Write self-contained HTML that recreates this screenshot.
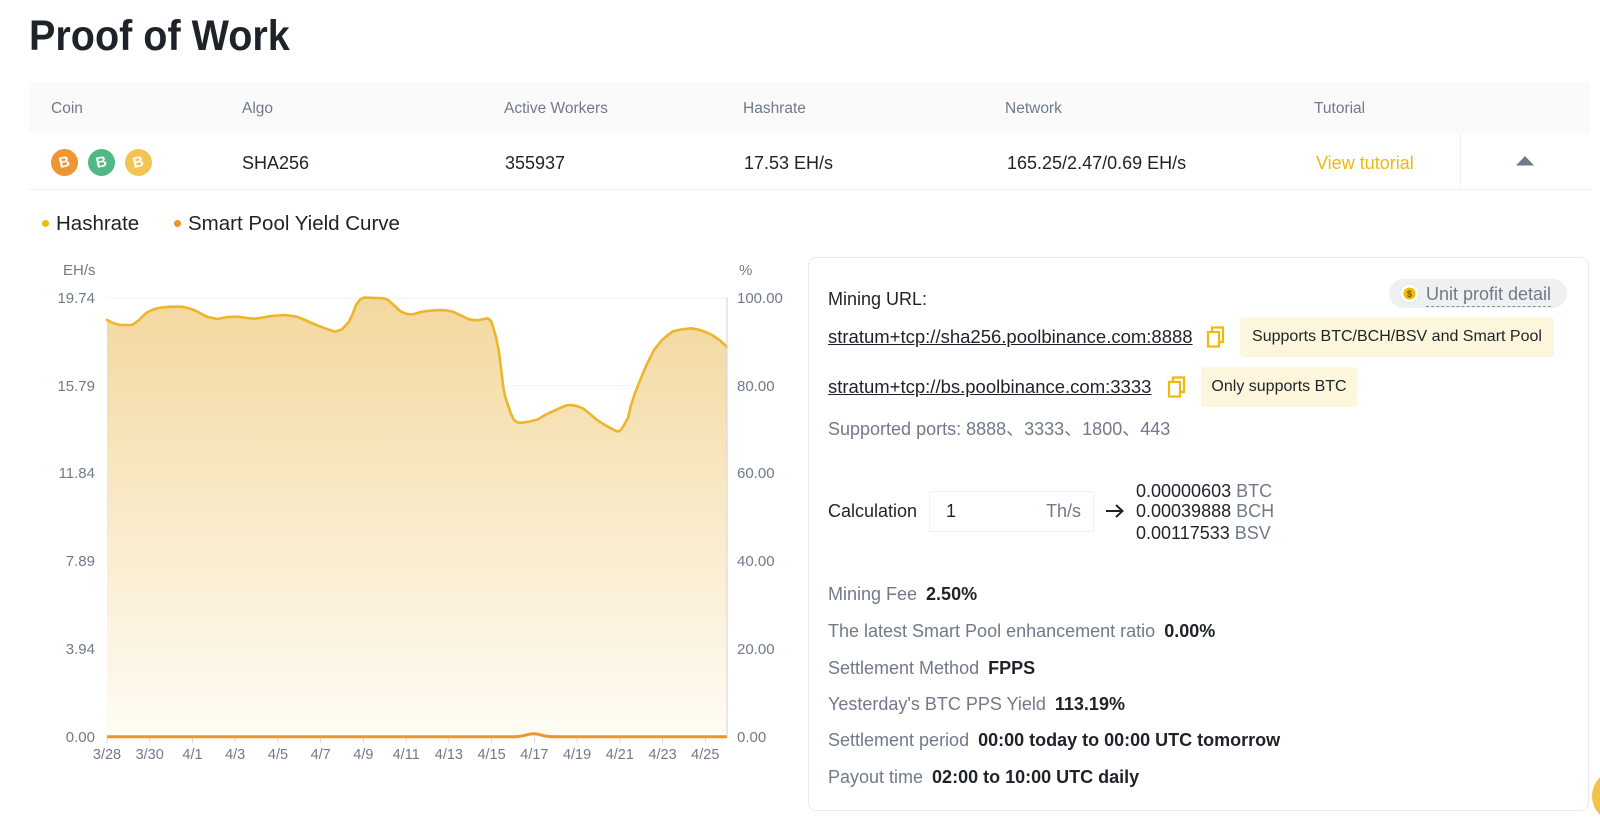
<!DOCTYPE html>
<html>
<head>
<meta charset="utf-8">
<style>
  html,body{margin:0;padding:0;}
  body{width:1600px;height:834px;overflow:hidden;background:#fff;position:relative;font-family:"Liberation Sans","Noto Sans CJK SC",sans-serif;color:#1e2329;}
  .a{position:absolute;white-space:nowrap;line-height:1;}
  .hd{font-size:15.5px;color:#707a8a;top:101px;}
  .rw{font-size:18px;color:#1e2329;top:154px;}
  .coin{position:absolute;width:27px;height:27px;border-radius:50%;top:149px;color:#fff;font-weight:bold;font-size:15px;line-height:27px;text-align:center;}
  .coin span{display:inline-block;transform:rotate(-12deg);}
  .yl{font-size:15px;color:#707a8a;text-align:right;width:60px;left:35px;}
  .yr{font-size:15px;color:#707a8a;left:737px;}
  .xl{font-size:14.5px;color:#707a8a;top:748px;width:50px;text-align:center;}
  .p18{font-size:18px;}
  .g{color:#707a8a;}
  .b{font-weight:bold;color:#1e2329;margin-left:9px;}
  .tag{position:absolute;background:#fdf5dc;border-radius:4px;font-size:16px;color:#1e2329;text-align:center;}
</style>
</head>
<body>

<!-- Title -->
<div class="a" style="left:28.6px;top:14.5px;font-size:43px;font-weight:bold;color:#1e2329;transform:scaleX(0.92);transform-origin:left top;">Proof of Work</div>

<!-- table header -->
<div style="position:absolute;left:28.6px;top:82px;width:1561px;height:51px;background:#fafafa;"></div>
<div class="a hd" style="left:51px;">Coin</div>
<div class="a hd" style="left:242px;">Algo</div>
<div class="a hd" style="left:504px;">Active Workers</div>
<div class="a hd" style="left:743px;">Hashrate</div>
<div class="a hd" style="left:1005px;">Network</div>
<div class="a hd" style="left:1314px;">Tutorial</div>

<!-- row -->
<div style="position:absolute;left:28.6px;top:189px;width:1561px;height:1px;background:#eef0f2;"></div>
<div style="position:absolute;left:1460px;top:133px;width:1px;height:57px;background:#eef0f2;"></div>
<div class="coin" style="left:51px;background:#ee9534;"><span>B</span></div>
<div class="coin" style="left:88px;background:#50b884;"><span>B</span></div>
<div class="coin" style="left:124.5px;background:#f3c452;"><span>B</span></div>
<div class="a rw" style="left:242px;">SHA256</div>
<div class="a rw" style="left:505px;">355937</div>
<div class="a rw" style="left:744px;">17.53 EH/s</div>
<div class="a rw" style="left:1007px;">165.25/2.47/0.69 EH/s</div>
<div class="a rw" style="left:1316px;color:#f0b90b;">View tutorial</div>
<svg style="position:absolute;left:1516px;top:156px;" width="18" height="10"><polygon points="0,9.5 9,0 18,9.5" fill="#707a8a"/></svg>

<!-- legend -->
<div style="position:absolute;left:41.5px;top:219.5px;width:7px;height:7px;border-radius:50%;background:#f0b90b;"></div>
<div class="a" style="left:56px;top:214px;font-size:20.5px;">Hashrate</div>
<div style="position:absolute;left:173.5px;top:219.5px;width:7px;height:7px;border-radius:50%;background:#f0902e;"></div>
<div class="a" style="left:188px;top:214px;font-size:20.5px;">Smart Pool Yield Curve</div>

<!-- chart -->
<svg style="position:absolute;left:0;top:0;" width="800" height="834">
  <defs>
    <linearGradient id="fg" x1="0" y1="298" x2="0" y2="737" gradientUnits="userSpaceOnUse">
      <stop offset="0" stop-color="#f3d89e"/>
      <stop offset="1" stop-color="#fffcf4"/>
    </linearGradient>
  </defs>
  <g stroke="#f1f2f4" stroke-width="1">
    <line x1="107" y1="298" x2="727" y2="298"/>
    <line x1="107" y1="385.7" x2="727" y2="385.7"/>
    <line x1="107" y1="473.5" x2="727" y2="473.5"/>
    <line x1="107" y1="561.2" x2="727" y2="561.2"/>
    <line x1="107" y1="649" x2="727" y2="649"/>
  </g>
  <path fill="url(#fg)" stroke="none" d="M107,736.7 L107,320 L113,323 L120,325 L132,325 L139,320 L146,313 L152,310 L158,308 L170,306.7 L182,306.7 L190,308.5 L196,311 L207,316.7 L217,319 L228,317 L238,316.7 L247,318 L255,318.7 L263,317.5 L271,316 L285,315 L297,316.7 L305,320 L314,324 L325,328.3 L335,331.7 L342,329.3 L349,321.7 L353,313 L356,305 L360,299.5 L364,297.5 L384,298.3 L388,300 L392,303.5 L397,308 L401,311.7 L407,314 L413,314.3 L422,311.7 L432,310.5 L441,310 L447,310.5 L453,311.7 L461,315.5 L469,319.3 L475,320.2 L479,320 L484,319 L488,318.3 L491,321 L493,326.7 L496,337 L499,352 L501,368 L503,385 L505,396 L508,405 L511,414 L514,420 L518,422.5 L522,422.7 L530,421.5 L538,419.3 L545,415 L552,411.7 L560,408 L566,405.5 L571,405 L577,406 L583,408.5 L590,414 L597,420 L604,424.5 L611,428.3 L615,430.5 L618,431.5 L621,430 L624,425 L628,418 L631,405 L635,393 L639,383 L646,366 L654,350 L662,340 L672,331.7 L681,329.5 L691,328.3 L698,329.5 L705,331.7 L712,335 L720,340.5 L727,347 L727,736.7 Z"/>
  <polyline fill="none" stroke="#eeb52c" stroke-width="2.6" stroke-linejoin="round" stroke-linecap="round" points="107,320 113,323 120,325 132,325 139,320 146,313 152,310 158,308 170,306.7 182,306.7 190,308.5 196,311 207,316.7 217,319 228,317 238,316.7 247,318 255,318.7 263,317.5 271,316 285,315 297,316.7 305,320 314,324 325,328.3 335,331.7 342,329.3 349,321.7 353,313 356,305 360,299.5 364,297.5 384,298.3 388,300 392,303.5 397,308 401,311.7 407,314 413,314.3 422,311.7 432,310.5 441,310 447,310.5 453,311.7 461,315.5 469,319.3 475,320.2 479,320 484,319 488,318.3 491,321 493,326.7 496,337 499,352 501,368 503,385 505,396 508,405 511,414 514,420 518,422.5 522,422.7 530,421.5 538,419.3 545,415 552,411.7 560,408 566,405.5 571,405 577,406 583,408.5 590,414 597,420 604,424.5 611,428.3 615,430.5 618,431.5 621,430 624,425 628,418 631,405 635,393 639,383 646,366 654,350 662,340 672,331.7 681,329.5 691,328.3 698,329.5 705,331.7 712,335 720,340.5 727,347"/>
  <!-- right axis -->
  <line x1="727" y1="298" x2="727" y2="737" stroke="#d5d8dc" stroke-width="1.2"/>
  <!-- x ticks -->
  <g stroke="#d5d8dc" stroke-width="1">
    <line x1="107" y1="737" x2="107" y2="743"/>
    <line x1="149.7" y1="737" x2="149.7" y2="743"/>
    <line x1="192.5" y1="737" x2="192.5" y2="743"/>
    <line x1="235.2" y1="737" x2="235.2" y2="743"/>
    <line x1="278" y1="737" x2="278" y2="743"/>
    <line x1="320.7" y1="737" x2="320.7" y2="743"/>
    <line x1="363.4" y1="737" x2="363.4" y2="743"/>
    <line x1="406.2" y1="737" x2="406.2" y2="743"/>
    <line x1="448.9" y1="737" x2="448.9" y2="743"/>
    <line x1="491.6" y1="737" x2="491.6" y2="743"/>
    <line x1="534.4" y1="737" x2="534.4" y2="743"/>
    <line x1="577.1" y1="737" x2="577.1" y2="743"/>
    <line x1="619.8" y1="737" x2="619.8" y2="743"/>
    <line x1="662.6" y1="737" x2="662.6" y2="743"/>
    <line x1="705.3" y1="737" x2="705.3" y2="743"/>
  </g>
  <!-- yield curve -->
  <path fill="none" stroke="#f0922e" stroke-width="3" d="M107,736.7 L514,736.7 C524,736.7 527,733.8 533.5,733.8 C540,733.8 543,736.7 553,736.7 L727,736.7"/>
</svg>

<div class="a" style="left:63px;top:263px;font-size:15px;color:#707a8a;">EH/s</div>
<div class="a" style="left:739px;top:263px;font-size:15px;color:#707a8a;">%</div>

<div class="a yl" style="top:290.8px;">19.74</div>
<div class="a yl" style="top:378.5px;">15.79</div>
<div class="a yl" style="top:466.3px;">11.84</div>
<div class="a yl" style="top:554px;">7.89</div>
<div class="a yl" style="top:641.8px;">3.94</div>
<div class="a yl" style="top:729.5px;">0.00</div>

<div class="a yr" style="top:290.8px;">100.00</div>
<div class="a yr" style="top:378.5px;">80.00</div>
<div class="a yr" style="top:466.3px;">60.00</div>
<div class="a yr" style="top:554px;">40.00</div>
<div class="a yr" style="top:641.8px;">20.00</div>
<div class="a yr" style="top:729.5px;">0.00</div>

<div class="a xl" style="left:82px;">3/28</div>
<div class="a xl" style="left:124.7px;">3/30</div>
<div class="a xl" style="left:167.5px;">4/1</div>
<div class="a xl" style="left:210.2px;">4/3</div>
<div class="a xl" style="left:253px;">4/5</div>
<div class="a xl" style="left:295.7px;">4/7</div>
<div class="a xl" style="left:338.4px;">4/9</div>
<div class="a xl" style="left:381.2px;">4/11</div>
<div class="a xl" style="left:423.9px;">4/13</div>
<div class="a xl" style="left:466.6px;">4/15</div>
<div class="a xl" style="left:509.4px;">4/17</div>
<div class="a xl" style="left:552.1px;">4/19</div>
<div class="a xl" style="left:594.8px;">4/21</div>
<div class="a xl" style="left:637.6px;">4/23</div>
<div class="a xl" style="left:680.3px;">4/25</div>

<!-- right card -->
<div style="position:absolute;left:808px;top:257px;width:779px;height:552px;border:1px solid #e8eaed;border-radius:8px;"></div>

<div class="a p18" style="left:828px;top:289.8px;">Mining URL:</div>

<div style="position:absolute;left:1389px;top:279px;width:178px;height:29px;border-radius:15px;background:#eff0f2;"></div>
<svg style="position:absolute;left:1399px;top:283px;" width="21" height="21">
  <circle cx="10.5" cy="10.5" r="9.5" fill="#fff" stroke="#d9dce0" stroke-width="1" stroke-dasharray="1.5 1"/>
  <circle cx="10.5" cy="10.5" r="6" fill="#f0b90b"/>
  <text x="10.5" y="14" font-size="9" font-family="Liberation Sans" font-weight="bold" text-anchor="middle" fill="#7a5a00">$</text>
</svg>
<div class="a p18" style="left:1426px;top:284.5px;color:#707a8a;padding-bottom:3px;border-bottom:1.5px dashed #8a93a0;">Unit profit detail</div>

<div class="a" style="left:828px;top:327.7px;font-size:18.5px;text-decoration:underline;">stratum+tcp://sha256.poolbinance.com:8888</div>
<svg style="position:absolute;left:1206px;top:326px;" width="20" height="22">
  <path d="M6,5 L6,1.5 L17,1.5 L17,16 L13,16" fill="none" stroke="#f0b90b" stroke-width="2.2"/>
  <rect x="2" y="6" width="11" height="14.5" fill="none" stroke="#f0b90b" stroke-width="2.2"/>
</svg>
<div class="tag" style="left:1240px;top:317px;width:314px;height:40px;line-height:40px;">Supports BTC/BCH/BSV and Smart Pool</div>

<div class="a" style="left:828px;top:377.8px;font-size:18.5px;text-decoration:underline;">stratum+tcp://bs.poolbinance.com:3333</div>
<svg style="position:absolute;left:1167px;top:376px;" width="20" height="22">
  <path d="M6,5 L6,1.5 L17,1.5 L17,16 L13,16" fill="none" stroke="#f0b90b" stroke-width="2.2"/>
  <rect x="2" y="6" width="11" height="14.5" fill="none" stroke="#f0b90b" stroke-width="2.2"/>
</svg>
<div class="tag" style="left:1201px;top:367px;width:156px;height:40px;line-height:40px;">Only supports BTC</div>

<div class="a" style="left:828px;top:419.7px;font-size:18px;color:#707a8a;">Supported ports: 8888、3333、1800、443</div>

<div class="a p18" style="left:828px;top:502.3px;">Calculation</div>
<div style="position:absolute;left:929px;top:491px;width:163px;height:39px;border:1px solid #eef0f2;border-radius:2px;"></div>
<div class="a p18" style="left:946px;top:502.3px;">1</div>
<div class="a p18" style="left:1046px;top:502.3px;color:#707a8a;">Th/s</div>
<svg style="position:absolute;left:1104px;top:502px;" width="22" height="18">
  <line x1="2" y1="9" x2="18" y2="9" stroke="#1e2329" stroke-width="2"/>
  <polyline points="12,3 18.5,9 12,15" fill="none" stroke="#1e2329" stroke-width="2"/>
</svg>
<div class="a p18" style="left:1136px;top:482.3px;">0.00000603 <span class="g">BTC</span></div>
<div class="a p18" style="left:1136px;top:502.3px;">0.00039888 <span class="g">BCH</span></div>
<div class="a p18" style="left:1136px;top:524px;">0.00117533 <span class="g">BSV</span></div>

<div class="a p18" style="left:828px;top:585.3px;"><span class="g">Mining Fee</span><span class="b">2.50%</span></div>
<div class="a p18" style="left:828px;top:622.3px;"><span class="g">The latest Smart Pool enhancement ratio</span><span class="b">0.00%</span></div>
<div class="a p18" style="left:828px;top:658.9px;"><span class="g">Settlement Method</span><span class="b">FPPS</span></div>
<div class="a p18" style="left:828px;top:694.7px;"><span class="g">Yesterday's BTC PPS Yield</span><span class="b">113.19%</span></div>
<div class="a p18" style="left:828px;top:731.3px;"><span class="g">Settlement period</span><span class="b">00:00 today to 00:00 UTC tomorrow</span></div>
<div class="a p18" style="left:828px;top:768.3px;"><span class="g">Payout time</span><span class="b">02:00 to 10:00 UTC daily</span></div>

<!-- floating yellow circle at edge -->
<div style="position:absolute;left:1592px;top:770px;width:52px;height:52px;border-radius:50%;background:#efc44b;"></div>

</body>
</html>
